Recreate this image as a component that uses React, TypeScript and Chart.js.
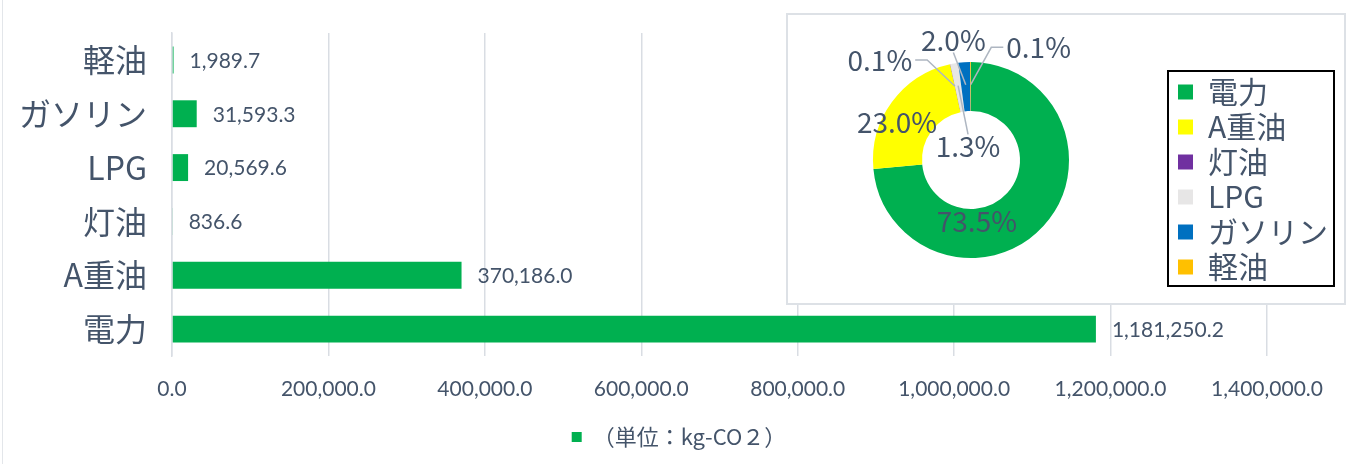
import React, { useEffect, useRef } from "react";
import { Chart, registerables } from "chart.js";

Chart.register(...registerables);

// ---- Data ----
const categories = ["軽油", "ガソリン", "LPG", "灯油", "A重油", "電力"];
const emissions = [1989.7, 31593.3, 20569.6, 836.6, 370186.0, 1181250.2];
const seriesLabel = "（単位：kg-CO２）";
const xMin = 0;
const xMax = 1400000;
const xStep = 200000;

const shareLabels = ["電力", "A重油", "灯油", "LPG", "ガソリン", "軽油"];
const shareValues = [1181250.2, 370186.0, 836.6, 20569.6, 31593.3, 1989.7];
const shareColors = ["#00B050", "#FFFF00", "#7030A0", "#E7E6E6", "#0070C0", "#FFC000"];

// ---- Styles ----
const TEXT = "#44546A";
const GRID = "#D9DDE3";
const LATIN = "Lato, 'Noto Sans CJK JP', sans-serif";
const JP = "'Noto Sans CJK JP', sans-serif";

// label placement for doughnut: [dx, dy] in units of outer radius, leader line flag
const pieLabelPlacement: [number, number, boolean][] = [
  [0.06, 0.63, false],
  [-0.755, -0.38, false],
  [-0.93, -1.02, true],
  [-0.03, -0.14, true],
  [-0.18, -1.22, true],
  [0.69, -1.15, true],
];

const fmt = (v: number) =>
  v.toLocaleString("en-US", { minimumFractionDigits: 1, maximumFractionDigits: 1 });

const barValuePlugin = {
  id: "barValues",
  afterDatasetsDraw(chart: any) {
    const ctx = chart.ctx;
    const meta = chart.getDatasetMeta(0);
    const data = chart.data.datasets[0].data as number[];
    ctx.save();
    ctx.font = `21px ${LATIN}`;
    ctx.fillStyle = TEXT;
    ctx.textAlign = "left";
    ctx.textBaseline = "middle";
    meta.data.forEach((bar: any, i: number) => {
      ctx.fillText(fmt(data[i]), bar.x + 16, bar.y + 1);
    });
    ctx.restore();
  },
};

const pieLabelPlugin = {
  id: "pieLabels",
  afterDatasetsDraw(chart: any) {
    const ctx = chart.ctx;
    const meta = chart.getDatasetMeta(0);
    const data = chart.data.datasets[0].data as number[];
    const total = data.reduce((a, b) => a + b, 0);
    ctx.save();
    ctx.font = `28px ${JP}`;
    ctx.textAlign = "center";
    ctx.textBaseline = "middle";
    ctx.strokeStyle = "#AEB6C1";
    ctx.lineWidth = 1.5;
    meta.data.forEach((arc: any, i: number) => {
      const { x, y, startAngle, endAngle, outerRadius } = arc.getProps(
        ["x", "y", "startAngle", "endAngle", "outerRadius"],
        true
      );
      const [ox, oy, lead] = pieLabelPlacement[i];
      const lx = x + ox * outerRadius;
      const ly = y + oy * outerRadius;
      const text = ((data[i] / total) * 100).toFixed(1) + "%";
      if (lead) {
        const mid = (startAngle + endAngle) / 2;
        const ax = x + Math.cos(mid) * outerRadius * 0.77;
        const ay = y + Math.sin(mid) * outerRadius * 0.77;
        const hw = ctx.measureText(text).width / 2 + 3;
        const hh = 12;
        ctx.beginPath();
        if (Math.abs(ax - lx) > hw) {
          const s = Math.sign(ax - lx);
          const sx = lx + s * hw;
          ctx.moveTo(sx, ly);
          ctx.lineTo(sx + s * 12, ly);
        } else {
          ctx.moveTo(lx, ly + Math.sign(ay - ly) * hh);
        }
        ctx.lineTo(ax, ay);
        ctx.stroke();
      }
      ctx.fillStyle = TEXT;
      ctx.fillText(text, lx, ly);
    });
    ctx.restore();
  },
};

const legendBoxPlugin = {
  id: "legendBox",
  afterDraw(chart: any) {
    const boxes = chart.legend?.legendHitBoxes;
    if (!boxes || !boxes.length) return;
    let l = Infinity, t = Infinity, r = -Infinity, b = -Infinity;
    boxes.forEach((h: any) => {
      l = Math.min(l, h.left);
      t = Math.min(t, h.top);
      r = Math.max(r, h.left + h.width);
      b = Math.max(b, h.top + h.height);
    });
    const ctx = chart.ctx;
    ctx.save();
    ctx.strokeStyle = "#000";
    ctx.lineWidth = 2;
    ctx.strokeRect(l - 10, t - 6, r - l + 16, b - t + 10);
    ctx.restore();
  },
};

export default function App() {
  const barRef = useRef<HTMLCanvasElement>(null);
  const pieRef = useRef<HTMLCanvasElement>(null);

  useEffect(() => {
    document.body.style.margin = "0";
    const bar = new Chart(barRef.current!, {
      type: "bar",
      data: {
        labels: categories,
        datasets: [
          {
            label: seriesLabel,
            data: emissions,
            backgroundColor: "#00B050",
            borderWidth: 0,
            barPercentage: 0.5,
            categoryPercentage: 1,
          },
        ],
      },
      options: {
        indexAxis: "y",
        responsive: false,
        animation: false,
        devicePixelRatio: 1,
        layout: { padding: { top: 33, right: 0, left: 0, bottom: 6 } },
        scales: {
          x: {
            min: xMin,
            max: xMax,
            ticks: {
              stepSize: xStep,
              color: TEXT,
              font: { size: 21, family: LATIN },
              padding: 21,
              callback: (v: any) => fmt(Number(v)),
            },
            grid: { color: GRID, lineWidth: 1.5, drawTicks: false },
            border: { display: false },
            afterFit: (s: any) => {
              s.height = 61;
              s.paddingLeft = 0;
              s.paddingRight = 0;
            },
          },
          y: {
            ticks: {
              color: TEXT,
              font: { size: 32, family: JP },
              padding: 25,
            },
            grid: { display: false, drawTicks: false },
            border: { display: true, color: GRID, width: 1.5 },
            afterFit: (s: any) => {
              s.width = 172;
              s.paddingTop = 0;
              s.paddingBottom = 0;
            },
          },
          spacer: {
            type: "linear",
            axis: "y",
            position: "right",
            display: true,
            grid: { display: false, drawTicks: false },
            ticks: { display: false },
            border: { display: false },
            afterFit: (s: any) => {
              s.width = 91;
              s.paddingTop = 0;
              s.paddingBottom = 0;
            },
          },
        },
        plugins: {
          legend: {
            position: "bottom",
            labels: {
              boxWidth: 10,
              boxHeight: 10,
              padding: 9,
              color: TEXT,
              font: { size: 22, family: JP },
            },
          },
          tooltip: { enabled: false },
        },
      },
      plugins: [barValuePlugin],
    } as any);

    const pie = new Chart(pieRef.current!, {
      type: "doughnut",
      data: {
        labels: shareLabels,
        datasets: [
          {
            data: shareValues,
            backgroundColor: shareColors,
            borderWidth: 0,
          },
        ],
      },
      options: {
        responsive: false,
        animation: false,
        devicePixelRatio: 1,
        radius: 98,
        cutout: "50%",
        layout: { padding: { top: 18, bottom: 16, right: 8, left: 0 } },
        plugins: {
          legend: {
            position: "right",
            align: "end",
            labels: {
              boxWidth: 15,
              boxHeight: 15,
              padding: 5,
              color: TEXT,
              font: { size: 30, family: JP },
            },
          },
          tooltip: { enabled: false },
        },
      },
      plugins: [pieLabelPlugin, legendBoxPlugin],
    } as any);

    return () => {
      bar.destroy();
      pie.destroy();
    };
  }, []);

  return (
    <div
      style={{
        position: "relative",
        width: 1358,
        height: 464,
        background: "#fff",
        overflow: "hidden",
      }}
    >
      <div
        style={{
          position: "absolute",
          left: 2,
          top: 0,
          width: 1,
          height: 464,
          background: "#E3E6EA",
        }}
      />
      <canvas
        ref={barRef}
        width={1358}
        height={464}
        style={{ position: "absolute", left: 0, top: 0 }}
      />
      <div
        style={{
          position: "absolute",
          left: 786,
          top: 13,
          width: 560,
          height: 292,
          boxSizing: "border-box",
          border: "2px solid #DDE1E6",
          background: "#fff",
          overflow: "hidden",
        }}
      >
        <canvas
          ref={pieRef}
          width={577}
          height={288}
          style={{ position: "absolute", left: -19, top: 0 }}
        />
      </div>
    </div>
  );
}
